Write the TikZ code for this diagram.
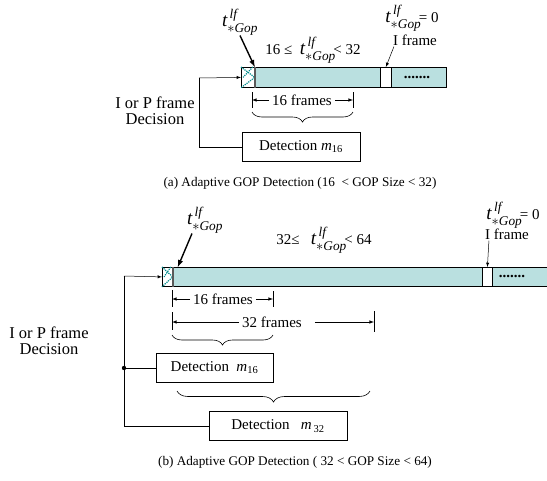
\documentclass[tikz,border=0pt]{standalone}
\usepackage{amsmath}
\usepackage{fontspec}
\setmainfont{Liberation Serif}
\usetikzlibrary{decorations.pathreplacing}
\definecolor{barcyan}{RGB}{186,224,224}
\definecolor{hatchteal}{RGB}{0,140,140}
\newcommand{\tgop}{$\textit{t}^{\,\textit{lf}}_{*\textit{Gop}}$}

\begin{document}
\begin{tikzpicture}[x=1pt,y=-1pt,
      lbl/.style={font=\fontsize{15}{17}\selectfont, inner sep=1pt},
      declbl/.style={font=\fontsize{16.5}{18}\selectfont, inner sep=1pt, align=center},
      captxt/.style={font=\fontsize{13.2}{15}\selectfont, inner sep=0pt},
      tlbl/.style={font=\fontsize{19}{21}\selectfont, inner sep=0pt},
      cell/.style={draw, line width=0.8pt, anchor=north west, inner sep=0pt},
      detbox/.style={draw, line width=0.8pt, minimum height=29pt, font=\fontsize{15}{17}\selectfont},
      bigarr/.style={-latex, line width=1.4pt},
      smallarr/.style={-latex, line width=0.5pt},
      dimarr/.style={-latex, line width=0.6pt},
      brc/.style={decorate, decoration={brace, mirror, amplitude=10pt}, line width=0.6pt}]
   \useasboundingbox (0,0) rectangle (547,480);
   \clip (0,0) rectangle (547,480);

   % (a) GOP of 16 to 32 frames
   \node[cell, fill=barcyan, minimum width=192pt, minimum height=20pt] (barA) at (254,67) {};
   \node[cell, fill=white, minimum width=13pt, minimum height=20pt] (hA) at (241,67) {};
   \node[cell, fill=white, minimum width=11pt, minimum height=20pt] (iA) at (380,67) {};
   \draw[hatchteal, densely dotted, line width=1.2pt] (hA.north west) -- (hA.east) -- (hA.south west);
   \draw[hatchteal, densely dotted, line width=1.2pt] ([xshift=-2pt]hA.north east) -- ([xshift=2pt]hA.west);
   \draw[gray!70!black, line width=1.5pt] (hA.north east) -- (hA.south east);
   \node[lbl] (dotsA) at (417,77) {\textbf{.......}};

   \node[tlbl] (tA) at (240,22) {\tgop};
   \draw[bigarr] (tA.south) -- (hA.north east);
   \node[lbl] (rA) at (313,50) {16 ≤ \ {\fontsize{19}{21}\selectfont\tgop}\!< 32};
   \node[lbl] (zA) at (412,18) {{\fontsize{19}{21}\selectfont\tgop}\!= 0};
   \node[lbl] (ifA) at (415,40) {I frame};
   \draw[smallarr] ([xshift=2pt]ifA.south west) -- (iA.north);

   \node[declbl] (decA) at (155,111) {I or P frame\\[-2pt]Decision};
   \node[detbox, minimum width=118pt] (detA) at (301,147) {Detection $\textit{m}_{\text{16}}$};
   \coordinate (cornA) at (199,78);
   \draw[smallarr] (cornA) -- (hA.west);
   \draw[line width=0.8pt] (cornA) |- (detA.west);

   \coordinate (dA1) at (252,100);
   \coordinate (dA2) at (353,100);
   \node[lbl, inner sep=3pt] (fA) at (302,100) {16 frames};
   \draw[dimarr] (fA.west) -- (dA1);
   \draw[dimarr] (fA.east) -- (dA2);
   \draw[line width=0.6pt] (252,92) -- (252,108);
   \draw[line width=0.6pt] (353,92) -- (353,108);
   \draw[brc] (252,112) -- (353,112);

   \node[captxt] (capA) at (300,183) {(a) Adaptive GOP Detection (16 \ < GOP Size < 32)};

   % (b) GOP of 32 to 64 frames
   \node[cell, fill=barcyan, minimum width=390pt, minimum height=19pt] (barB) at (172,267) {};
   \node[cell, fill=white, minimum width=10pt, minimum height=19pt] (hB) at (162,267) {};
   \node[cell, fill=white, minimum width=10pt, minimum height=19pt] (iB) at (482,267) {};
   \draw[hatchteal, densely dotted, line width=1.2pt] (hB.north west) -- (hB.east) -- (hB.south west);
   \draw[hatchteal, densely dotted, line width=1.2pt] ([xshift=-2pt]hB.north east) -- ([xshift=2pt]hB.west);
   \draw[gray!70!black, line width=1.5pt] (hB.north east) -- (hB.south east);
   \node[lbl] (dotsB) at (512,276) {\textbf{.......}};

   \node[tlbl] (tB) at (205,220) {\tgop};
   \draw[bigarr] ([xshift=-13pt]tB.south) -- ([xshift=5pt]hB.north east);
   \node[lbl] (rB) at (324,240) {32≤ \ \ {\fontsize{19}{21}\selectfont\tgop}\!< 64};
   \node[lbl] (zB) at (513,215) {{\fontsize{19}{21}\selectfont\tgop}\!= 0};
   \node[lbl] (ifB) at (507,234) {I frame};
   \draw[smallarr] ([xshift=5pt]ifB.south west) -- (iB.north);

   \node[declbl] (decB) at (49,341) {I or P frame\\[-2pt]Decision};
   \node[detbox, minimum width=117pt] (detB1) at (214.5,368) {Detection~~$\textit{m}_{\text{16}}$};
   \node[detbox, minimum width=138pt] (detB2) at (278,426) {Detection~~~$\textit{m}_{\,\text{32}}$};
   \coordinate (cornB) at (124,276);
   \coordinate (junB) at (124,368);
   \draw[smallarr] (cornB) -- (hB.west);
   \draw[line width=0.8pt] (cornB) |- (detB2.west);
   \draw[line width=0.8pt] (junB) -- (detB1.west);
   \fill (junB) circle (2.2pt);

   \coordinate (dB1) at (172,299);
   \coordinate (dB2) at (273,299);
   \node[lbl, inner sep=3pt] (fB1) at (223,299) {16 frames};
   \draw[dimarr] (fB1.west) -- (dB1);
   \draw[dimarr] (fB1.east) -- (dB2);
   \coordinate (dB3) at (172,322);
   \coordinate (dB4) at (374,322);
   \node[lbl, inner sep=3pt] (fB2) at (272,322) {32 frames};
   \draw[dimarr] (fB2.west) -- (dB3);
   \draw[dimarr] ([xshift=10pt]fB2.east) -- (dB4);
   \draw[line width=0.6pt] (172,290) -- (172,307);
   \draw[line width=0.6pt] (273,291) -- (273,307);
   \draw[line width=0.6pt] (172,312) -- (172,330);
   \draw[line width=0.6pt] (374,311) -- (374,332);
   \draw[brc] (172,335) -- (273,335);
   \draw[brc, decoration={amplitude=11pt}] (177,391) -- (370,391);

   \node[captxt] (capB) at (295,462) {(b) Adaptive GOP Detection ( 32 < GOP Size < 64)};
\end{tikzpicture}
\end{document}
